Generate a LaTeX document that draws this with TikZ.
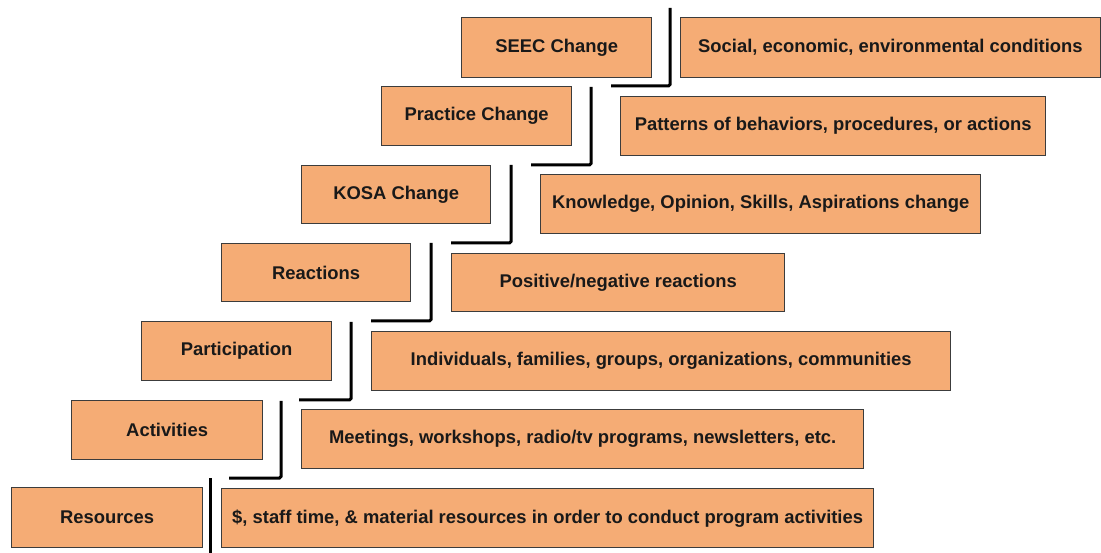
\documentclass[tikz,border=0pt]{standalone}
\usepackage{fontspec}
\setmainfont{Liberation Sans}
\definecolor{boxfill}{RGB}{245,172,117}
\definecolor{boxline}{RGB}{60,60,60}
\definecolor{txt}{RGB}{25,25,25}
\begin{document}
\begin{tikzpicture}[x=1pt,y=-1pt,
  box/.style={draw=boxline, line width=1.3pt, fill=boxfill, inner sep=0pt,
    anchor=north west, text=txt, font=\bfseries\fontsize{18.4}{21}\selectfont},
  stair/.style={draw=black, line width=3pt, rounded corners=1.5pt}]
\useasboundingbox[fill=white] (0,0) rectangle (1101,553);
% level 0
\node[box, minimum width=191pt, minimum height=60pt] (res) at (11,487) {Resources};
\node[box, minimum width=652pt, minimum height=59pt] (resd) at (221,488) {\$, staff time, \& material resources in order to conduct program activities};
% level 1
\node[box, minimum width=191pt, minimum height=59pt] (act) at (71,400) {Activities};
\node[box, minimum width=562pt, minimum height=59pt] (actd) at (301,409) {Meetings, workshops, radio/tv programs, newsletters, etc.};
% level 2
\node[box, minimum width=190pt, minimum height=59pt] (par) at (141,321) {Participation};
\node[box, minimum width=579pt, minimum height=59pt] (pard) at (371,331) {Individuals, families, groups, organizations, communities};
% level 3
\node[box, minimum width=189pt, minimum height=58pt] (rea) at (221,243) {Reactions};
\node[box, minimum width=333pt, minimum height=58pt] (read) at (451,253) {Positive/negative reactions};
% level 4
\node[box, minimum width=189pt, minimum height=58pt] (kosa) at (301,165) {KOSA Change};
\node[box, minimum width=440pt, minimum height=59pt] (kosad) at (540,174) {Knowledge, Opinion, Skills, Aspirations change};
% level 5
\node[box, minimum width=190pt, minimum height=59pt] (pra) at (381,86) {Practice Change};
\node[box, minimum width=425pt, minimum height=59pt] (prad) at (620,96) {Patterns of behaviors, procedures, or actions};
% level 6
\node[box, minimum width=190pt, minimum height=60pt] (seec) at (461,17) {SEEC Change};
\node[box, minimum width=419.5pt, minimum height=60pt] (seecd) at (680,17) {Social, economic, environmental conditions};
% stairs
\draw[stair] (210,478) -- (210,553);
\draw[stair] (229,478) -- (281,478) -- (281,401);
\draw[stair] (299,400) -- (351,400) -- (351,322);
\draw[stair] (371,321) -- (431,321) -- (431,243);
\draw[stair] (451,243) -- (511,243) -- (511,165);
\draw[stair] (531,165) -- (591,165) -- (591,87);
\draw[stair] (611,86) -- (670,86) -- (670,8);
\end{tikzpicture}
\end{document}
